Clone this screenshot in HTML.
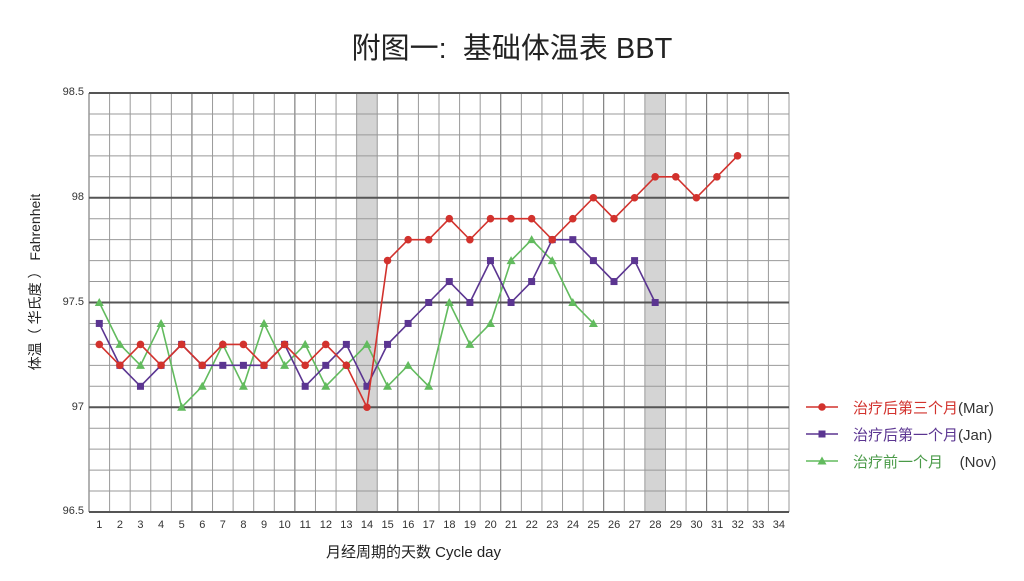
<!DOCTYPE html>
<html><head><meta charset="utf-8"><style>
body{margin:0;width:1024px;height:581px;background:#fff;position:relative;overflow:hidden;font-family:"Liberation Sans","Noto Sans CJK SC",sans-serif;}
.t{position:absolute;white-space:nowrap;}
#xt{position:absolute;left:89px;top:519px;width:700px;display:flex;font-size:11px;color:#333;}
#xt span{flex:1;text-align:center;}
.yl{position:absolute;left:50px;width:34px;text-align:right;font-size:11px;color:#333;}
</style></head><body>
<div class="t" style="left:0;width:1024px;top:25px;text-align:center;font-size:29px;color:#222;">附图一:&nbsp;&nbsp;基础体温表 BBT</div>
<svg id="s" width="1024" height="581" style="position:absolute;left:0;top:0"></svg>
<div class="yl" style="top:86px">98.5</div>
<div class="yl" style="top:191px">98</div>
<div class="yl" style="top:296px">97.5</div>
<div class="yl" style="top:401px">97</div>
<div class="yl" style="top:505px">96.5</div>
<div id="xt"><span>1</span><span>2</span><span>3</span><span>4</span><span>5</span><span>6</span><span>7</span><span>8</span><span>9</span><span>10</span><span>11</span><span>12</span><span>13</span><span>14</span><span>15</span><span>16</span><span>17</span><span>18</span><span>19</span><span>20</span><span>21</span><span>22</span><span>23</span><span>24</span><span>25</span><span>26</span><span>27</span><span>28</span><span>29</span><span>30</span><span>31</span><span>32</span><span>33</span><span>34</span></div>
<div class="t" style="left:326px;top:541px;font-size:15px;color:#222;">月经周期的天数 Cycle day</div>
<div class="t" style="left:-65px;top:272px;width:200px;text-align:center;transform:rotate(-90deg);font-size:14px;color:#222;">体温（ 华氏度 ） Fahrenheit</div>
<div class="t" style="left:853px;top:397px;font-size:15px;color:#d2322d;">治疗后第三个月<span style="color:#333">(Mar)</span></div>
<div class="t" style="left:853px;top:424px;font-size:15px;color:#5b3591;">治疗后第一个月<span style="color:#333">(Jan)</span></div>
<div class="t" style="left:853px;top:451px;font-size:15px;color:#4a9a48;">治疗前一个月&nbsp;&nbsp;&nbsp;&nbsp;<span style="color:#333">(Nov)</span></div>
<script>
var s=document.getElementById('s'),h='';
var L=89,R=789,T=93,B=512,cw=(R-L)/34,rh=(B-T)/20;
function X(d){return L+cw*(d-0.5)}function Y(v){return B-(v-96.5)*10*rh}
h+='<rect x="'+(L+cw*13)+'" y="'+T+'" width="'+cw+'" height="'+(B-T)+'" fill="#d4d4d4"/>';
h+='<rect x="'+(L+cw*27)+'" y="'+T+'" width="'+cw+'" height="'+(B-T)+'" fill="#d4d4d4"/>';
for(var i=0;i<=34;i++){var x=L+cw*i;h+='<line x1="'+x+'" y1="'+T+'" x2="'+x+'" y2="'+B+'" stroke="'+(i%5==0?'#666':'#999')+'" stroke-width="1"/>';}
for(var j=0;j<=20;j++){var y=T+rh*j;var m=j%5==0;h+='<line x1="'+L+'" y1="'+y+'" x2="'+R+'" y2="'+y+'" stroke="'+(m?'#555':'#999')+'" stroke-width="'+(m?2:1)+'"/>';}
var red=[97.3,97.2,97.3,97.2,97.3,97.2,97.3,97.3,97.2,97.3,97.2,97.3,97.2,97.0,97.7,97.8,97.8,97.9,97.8,97.9,97.9,97.9,97.8,97.9,98.0,97.9,98.0,98.1,98.1,98.0,98.1,98.2];
var pur=[97.4,97.2,97.1,97.2,97.3,97.2,97.2,97.2,97.2,97.3,97.1,97.2,97.3,97.1,97.3,97.4,97.5,97.6,97.5,97.7,97.5,97.6,97.8,97.8,97.7,97.6,97.7,97.5];
var grn=[97.5,97.3,97.2,97.4,97.0,97.1,97.3,97.1,97.4,97.2,97.3,97.1,97.2,97.3,97.1,97.2,97.1,97.5,97.3,97.4,97.7,97.8,97.7,97.5,97.4];
function mk(t,x,y,c){if(t==0)return '<circle cx="'+x+'" cy="'+y+'" r="3.8" fill="'+c+'"/>';if(t==1)return '<rect x="'+(x-3.5)+'" y="'+(y-3.5)+'" width="7" height="7" fill="'+c+'"/>';return '<polygon points="'+x+','+(y-4.5)+' '+(x-4.5)+','+(y+3.5)+' '+(x+4.5)+','+(y+3.5)+'" fill="'+c+'"/>';}
function ser(d,c,t){var p=d.map(function(v,i){return X(i+1)+','+Y(v)}).join(' ');h+='<polyline points="'+p+'" fill="none" stroke="'+c+'" stroke-width="1.6"/>';d.forEach(function(v,i){h+=mk(t,X(i+1),Y(v),c)});}
ser(grn,'#62bb5e',2);ser(pur,'#5b3591',1);ser(red,'#d2322d',0);
var lg=[['#d2322d',0,407],['#5b3591',1,434],['#62bb5e',2,461]];
lg.forEach(function(a){h+='<line x1="806" y1="'+a[2]+'" x2="838" y2="'+a[2]+'" stroke="'+a[0]+'" stroke-width="1.6"/>'+mk(a[1],822,a[2],a[0]);});
s.innerHTML=h;
</script>
</body></html>
